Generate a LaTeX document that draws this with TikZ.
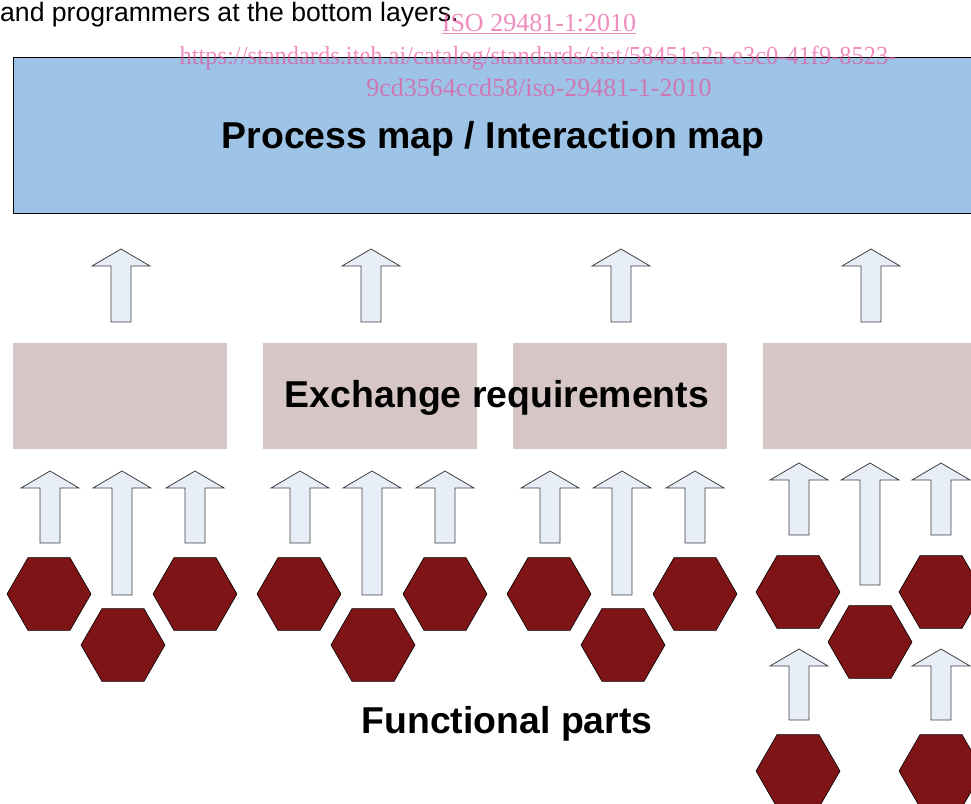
\documentclass[tikz,border=0pt]{standalone}
\usepackage{fontspec}
\setmainfont{Liberation Sans}
\newfontfamily\wmfont{Liberation Serif}
\usetikzlibrary{shapes.geometric}
\definecolor{mapblue}{HTML}{9DC3E6}
\definecolor{reqgray}{HTML}{D6C6C6}
\definecolor{partred}{HTML}{7F1416}
\definecolor{arrowfill}{HTML}{E8EEF7}
\definecolor{wmpink}{HTML}{E6509A}
\tikzset{
  hexpart/.style={regular polygon, regular polygon sides=6, minimum size=84pt, inner sep=0pt, fill=partred, draw=black, line width=0.6pt},
  reqbox/.style={fill=reqgray},
  blockarrow/.style={fill=arrowfill, draw=black!75, line width=0.8pt, line join=miter},
  bigtitle/.style={font=\fontsize{37.4}{44}\selectfont\bfseries, inner sep=0pt, anchor=base},
  wmtext/.style={text=wmpink, text opacity=0.65, font=\wmfont\fontsize{26}{32}\selectfont, inner sep=0pt, anchor=base}
}
% block arrow pointing up: x, tip y, bottom y
\newcommand{\uparrowat}[3]{%
  \draw[blockarrow] (#1,#2) -- (#1+29,#2+17) -- (#1+10,#2+17) -- (#1+10,#3)
    -- (#1-10,#3) -- (#1-10,#2+17) -- (#1-29,#2+17) -- cycle;}
\begin{document}
\begin{tikzpicture}[x=1pt,y=-1pt,line cap=round,line join=round]
  \useasboundingbox (0,0) rectangle (971,803);
  \clip (0,0) rectangle (971,803);
  % top layer
  \draw[fill=mapblue, line width=0.8pt] (13,57) rectangle (990,213);
  \node[anchor=base west, inner sep=0pt, font=\fontsize{26.6}{30}\selectfont] (intro) at (0,21) {and programmers at the bottom layers.};
  \node[bigtitle] (pmap) at (493,148) {Process map / Interaction map};
  % watermark
  \node[wmtext] (wm1) at (539,31) {\underline{ISO 29481-1:2010}};
  \node[wmtext] (wm2) at (538,64) {\scalebox{0.94}[1]{https://standards.iteh.ai/catalog/standards/sist/58451a2a-e3c0-41f9-8523-}};
  \node[wmtext] (wm3) at (539,96) {9cd3564ccd58/iso-29481-1-2010};
  % exchange requirements
  \foreach \g in {0,1,2,3}{
    \fill[reqbox] (13+\g*250,343) rectangle (227+\g*250,449);
    \uparrowat{121+\g*250}{249}{322}
  }
  \node[bigtitle] (exreq) at (497,407) {Exchange requirements};
  % functional parts
  \foreach \g in {0,1,2}{
    \uparrowat{50+\g*250}{471}{543}
    \uparrowat{122+\g*250}{471}{595}
    \uparrowat{195+\g*250}{471}{543}
    \node[hexpart] (hexa\g) at (49+\g*250,594) {};
    \node[hexpart] (hexb\g) at (123+\g*250,645) {};
    \node[hexpart] (hexc\g) at (195+\g*250,594) {};
  }
  \uparrowat{799}{463}{535}
  \uparrowat{870}{463}{585}
  \uparrowat{941}{463}{535}
  \uparrowat{799}{649}{720}
  \uparrowat{941}{649}{720}
  \node[hexpart] (hexa3) at (798,592) {};
  \node[hexpart] (hexb3) at (870,642) {};
  \node[hexpart] (hexc3) at (941,592) {};
  \node[hexpart] (hexd3) at (798,771) {};
  \node[hexpart] (hexe3) at (941,771) {};
  \node[bigtitle] (fparts) at (507,733) {Functional parts};
\end{tikzpicture}
\end{document}
